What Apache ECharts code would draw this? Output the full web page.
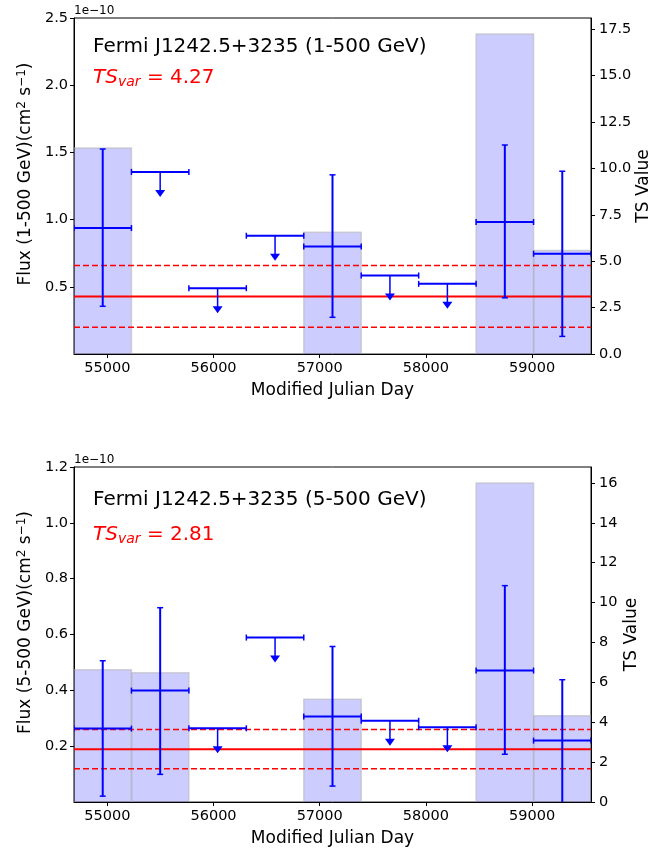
<!DOCTYPE html>
<html>
<head>
<meta charset="utf-8">
<script src="https://cdn.jsdelivr.net/npm/echarts@6/dist/echarts.min.js"></script>
<style>
  html, body { margin: 0; background: #fff; }
  #chart { width: 665px; height: 849px; }
</style>
</head>
<body>
<div id="chart"></div>
<script>
// time bins (MJD)
var binStart = [54686, 55227, 55768, 56309, 56850, 57391, 57932, 58473, 59014]
var binEnd = [55227, 55768, 56309, 56850, 57391, 57932, 58473, 59014, 59555]
var binMid = [54956.5, 55497.5, 56038.5, 56579.5, 57120.5, 57661.5, 58202.5, 58743.5, 59284.5]
var xTicks = [55000, 56000, 57000, 58000, 59000]

// 1-500 GeV (flux in 1e-10 cm-2 s-1)
var flux1 = [0.937, 1.355, 0.49, 0.88, 0.80, 0.584, 0.522, 0.982, 0.746]
var flux1Lo = [0.355, null, null, null, 0.273, null, null, 0.418, 0.131]
var flux1Hi = [1.525, null, null, null, 1.333, null, null, 1.555, 1.36]
var upper1 = [0, 1, 1, 1, 0, 1, 1, 0, 0]
var ts1 = [11.1, 0, 0, 0, 6.56, 0, 0, 17.24, 5.57]
var mean1 = 0.428
var band1 = [0.199, 0.659]

// 5-500 GeV
var flux2 = [0.263, 0.399, 0.264, 0.589, 0.306, 0.291, 0.268, 0.471, 0.220]
var flux2Lo = [0.021, 0.099, null, null, 0.057, null, null, 0.171, -0.02]
var flux2Hi = [0.506, 0.696, null, null, 0.557, null, null, 0.775, 0.438]
var upper2 = [0, 0, 1, 1, 0, 1, 1, 0, 0]
var ts2 = [6.63, 6.48, 0, 0, 5.15, 0, 0, 16.0, 4.32]
var mean2 = 0.189
var band2 = [0.119, 0.26]

var leftTicks1 = [0.5, 1.0, 1.5, 2.0, 2.5]
var rightTicks1 = [0, 2.5, 5, 7.5, 10, 12.5, 15, 17.5]
var leftTicks2 = [0.2, 0.4, 0.6, 0.8, 1.0, 1.2]
var rightTicks2 = [0, 2, 4, 6, 8, 10, 12, 14, 16]

var FONT = 'DejaVu Sans'
var BLUE = '#0000ff'

var chart = echarts.init(document.getElementById('chart'), null, { renderer: 'canvas' })

function barRender(params, api) {
  var a = api.coord([api.value(0), api.value(2)])
  var b = api.coord([api.value(1), 0])
  return {
    type: 'rect',
    shape: { x: a[0], y: a[1], width: b[0] - a[0], height: b[1] - a[1] },
    style: { fill: 'rgba(0,0,255,0.2)', stroke: 'rgba(185,185,185,0.6)', lineWidth: 1.5 }
  }
}

function errRender(params, api) {
  var y = api.value(1)
  var pL = api.coord([api.value(4), y])
  var pR = api.coord([api.value(5), y])
  var pM = api.coord([api.value(0), y])
  var line = { stroke: BLUE, lineWidth: 2 }
  var cap = { stroke: BLUE, lineWidth: 1.5 }
  var kids = [
    { type: 'line', shape: { x1: pL[0], y1: pL[1], x2: pR[0], y2: pR[1] }, style: line },
    { type: 'line', shape: { x1: pL[0], y1: pL[1] - 3, x2: pL[0], y2: pL[1] + 3 }, style: cap },
    { type: 'line', shape: { x1: pR[0], y1: pR[1] - 3, x2: pR[0], y2: pR[1] + 3 }, style: cap }
  ]
  if (api.value(6)) {
    var tip = pM[1] + 25
    kids.push({ type: 'line', shape: { x1: pM[0], y1: pM[1], x2: pM[0], y2: tip - 5 }, style: { stroke: BLUE, lineWidth: 1.5 } })
    kids.push({ type: 'polygon', shape: { points: [[pM[0] - 5, tip - 7], [pM[0] + 5, tip - 7], [pM[0], tip]] }, style: { fill: BLUE } })
  } else {
    var pT = api.coord([api.value(0), api.value(3)])
    var pB = api.coord([api.value(0), api.value(2)])
    kids.push({ type: 'line', shape: { x1: pT[0], y1: pT[1], x2: pB[0], y2: pB[1] }, style: line })
    kids.push({ type: 'line', shape: { x1: pT[0] - 3, y1: pT[1], x2: pT[0] + 3, y2: pT[1] }, style: cap })
    kids.push({ type: 'line', shape: { x1: pB[0] - 3, y1: pB[1], x2: pB[0] + 3, y2: pB[1] }, style: cap })
  }
  return { type: 'group', children: kids }
}

function hline(val, dashed, gi) {
  return {
    type: 'line',
    xAxisIndex: gi,
    yAxisIndex: gi * 2,
    data: [[binStart[0], val], [binEnd[binEnd.length - 1], val]],
    symbol: 'none',
    silent: true,
    z: 3,
    lineStyle: { color: '#ff0000', width: dashed ? 1.5 : 2, type: dashed ? [6, 3] : 'solid' }
  }
}

function panelSeries(gi, flux, lo, hi, ul, ts, mean, band) {
  var bars = ts.map(function (t, i) { return [binStart[i], binEnd[i], t] })
  var errs = flux.map(function (f, i) {
    return [binMid[i], f, lo[i] == null ? f : lo[i], hi[i] == null ? f : hi[i], binStart[i], binEnd[i], ul[i]]
  })
  return [
    { type: 'custom', xAxisIndex: gi, yAxisIndex: gi * 2 + 1, renderItem: barRender, data: bars, clip: true, z: 1, silent: true },
    hline(mean, false, gi),
    hline(band[0], true, gi),
    hline(band[1], true, gi),
    { type: 'custom', xAxisIndex: gi, yAxisIndex: gi * 2, renderItem: errRender, data: errs, clip: true, z: 4, silent: true }
  ]
}

function xAxisCfg(gi) {
  return {
    type: 'value', gridIndex: gi,
    min: binStart[0], max: binEnd[binEnd.length - 1],
    name: 'Modified Julian Day', nameLocation: 'middle', nameGap: 28, nameMoveOverlap: false,
    nameTextStyle: { fontFamily: FONT, fontSize: 17, color: '#000' },
    axisLine: { lineStyle: { color: '#000', width: 1 } },
    axisTick: { length: 4, lineStyle: { color: '#000' }, customValues: xTicks },
    axisLabel: { fontFamily: FONT, fontSize: 14.5, color: '#000', margin: 7, customValues: xTicks, formatter: function (v) { return String(v) } },
    splitLine: { show: false }
  }
}

var supRich = {
  sup: { fontFamily: FONT, fontSize: 12, color: '#000', padding: [0, 0, 8, 0] }
}

function yAxisCfg(gi, pos, max, ticks, name, gap, fmt) {
  return {
    type: 'value', gridIndex: gi, position: pos,
    min: 0, max: max,
    name: name, nameLocation: 'middle', nameGap: gap, nameRotate: 90, nameMoveOverlap: false,
    nameTextStyle: {
      fontFamily: FONT, fontSize: 17, color: '#000', rich: supRich,
      padding: pos === 'left' ? [0, 0, 0, 24] : 0
    },
    axisLine: { show: true, lineStyle: { color: '#000', width: 1 } },
    axisTick: { show: true, length: 4, lineStyle: { color: '#000' }, customValues: ticks },
    axisLabel: { fontFamily: FONT, fontSize: 14.5, color: '#000', margin: pos === 'right' ? 8 : 6, customValues: ticks, formatter: fmt },
    splitLine: { show: false }
  }
}

function fmt1(v) { return v.toFixed(1) }
function fmt0(v) { return String(Math.round(v)) }

function tsText(val, y) {
  return {
    type: 'text', left: 93, top: y,
    style: {
      text: '{i|TS}{s|var}{n| = ' + val + '}',
      rich: {
        i: { fontFamily: FONT, fontSize: 20, fontStyle: 'italic', fill: '#ff0000' },
        s: { fontFamily: FONT, fontSize: 14, fontStyle: 'italic', fill: '#ff0000', padding: [8, 0, 0, 0] },
        n: { fontFamily: FONT, fontSize: 20, fill: '#ff0000' }
      }
    }
  }
}

var fluxName1 = 'Flux (1-500 GeV)(cm{sup|2} s{sup|\u22121})'
var fluxName2 = 'Flux (5-500 GeV)(cm{sup|2} s{sup|\u22121})'

chart.setOption({
  animation: false,
  backgroundColor: '#fff',
  grid: [
    { left: 74, top: 18, width: 517, height: 336, show: true, borderColor: '#000', borderWidth: 1, backgroundColor: 'transparent' },
    { left: 74, top: 467, width: 517, height: 335, show: true, borderColor: '#000', borderWidth: 1, backgroundColor: 'transparent' }
  ],
  xAxis: [xAxisCfg(0), xAxisCfg(1)],
  yAxis: [
    yAxisCfg(0, 'left', 2.5, leftTicks1, fluxName1, 38, fmt1),
    yAxisCfg(0, 'right', 18.1, rightTicks1, 'TS Value', 44, fmt1),
    yAxisCfg(1, 'left', 1.2, leftTicks2, fluxName2, 38, fmt1),
    yAxisCfg(1, 'right', 16.8, rightTicks2, 'TS Value', 32, fmt0)
  ],
  graphic: [
    { type: 'text', left: 74, top: 5, style: { text: '1e\u221210', fontFamily: FONT, fontSize: 12, fill: '#000' } },
    { type: 'text', left: 74, top: 454, style: { text: '1e\u221210', fontFamily: FONT, fontSize: 12, fill: '#000' } },
    { type: 'text', left: 93, top: 37, style: { text: 'Fermi J1242.5+3235 (1-500 GeV)', fontFamily: FONT, fontSize: 20, fill: '#000' } },
    { type: 'text', left: 93, top: 490, style: { text: 'Fermi J1242.5+3235 (5-500 GeV)', fontFamily: FONT, fontSize: 20, fill: '#000' } },
    tsText('4.27', 68),
    tsText('2.81', 525)
  ],
  series: panelSeries(0, flux1, flux1Lo, flux1Hi, upper1, ts1, mean1, band1)
    .concat(panelSeries(1, flux2, flux2Lo, flux2Hi, upper2, ts2, mean2, band2))
})
</script>
</body>
</html>
